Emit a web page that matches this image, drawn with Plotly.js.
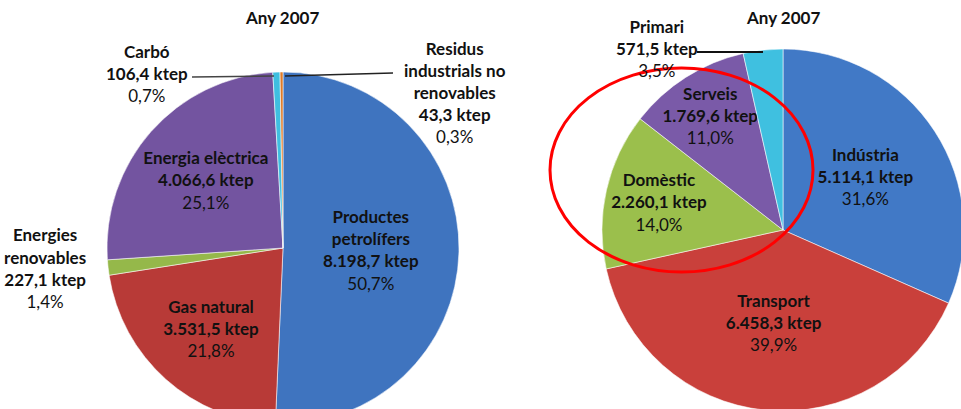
<!DOCTYPE html>
<html>
<head>
<meta charset="utf-8">
<script src="https://cdn.plot.ly/plotly-3.0.1.min.js"></script>
<style>
  html, body { margin: 0; padding: 0; background: #fff; overflow: hidden; }
  #chart { width: 1000px; height: 440px; }
</style>
</head>
<body>
<div id="chart"></div>
<script>
// ---- Data ----
const chartTitle = 'Any 2007';

const leftNames = ['Productes<br>petrolífers', 'Gas natural', 'Energies<br>renovables', 'Energia elèctrica', 'Carbó', 'Residus<br>industrials no<br>renovables'];
const leftValues = [8198.7, 3531.5, 227.1, 4066.6, 106.4, 43.3];
const leftPct = [50.7, 21.8, 1.4, 25.1, 0.7, 0.3];
const leftColors = ['#3f74bf', '#b83a37', '#95b84a', '#7354a0', '#3fbfe0', '#e07b28'];

const rightNames = ['Indústria', 'Transport', 'Domèstic', 'Serveis', 'Primari'];
const rightValues = [5114.1, 6458.3, 2260.1, 1769.6, 571.5];
const rightPct = [31.6, 39.9, 14.0, 11.0, 3.5];
const rightColors = ['#4179c6', '#c9403b', '#9bbf4c', '#7a5aa8', '#3fc0e0'];

// ---- Helpers ----
const fmtNum = (v) => {
  const parts = v.toFixed(1).split('.');
  const intPart = parts[0].replace(/\B(?=(\d{3})+(?!\d))/g, '.');
  return intPart + ',' + parts[1];
};
const fmtPct = (p) => p.toFixed(1).replace('.', ',') + '%';
const labelText = (name, v, p) => '<b>' + name + '</b><br><b>' + fmtNum(v) + ' ktep</b><br>' + fmtPct(p);

const FONT = 'Lato, "Open Sans", sans-serif';
const FS = 17;
const W = 1000, H = 440;
const px = (x) => x / W;
const py = (y) => (H - y) / H;

const sliceTemplate = '<b>%{label}</b><br><b>%{value:,.1f} ktep</b><br>%{customdata:.1f}%';
const txtFont = { family: FONT, size: FS, color: '#111' };

const leftTrace = {
  type: 'pie',
  labels: leftNames,
  values: leftValues,
  customdata: leftPct,
  sort: false,
  direction: 'clockwise',
  rotation: 0,
  marker: { colors: leftColors, line: { color: 'rgba(255,255,255,0.55)', width: 1 } },
  texttemplate: sliceTemplate,
  textposition: ['inside', 'inside', 'outside', 'inside', 'none', 'none'],
  insidetextorientation: 'horizontal',
  textfont: txtFont,
  insidetextfont: txtFont,
  outsidetextfont: txtFont,
  domain: { x: [px(107), px(459)], y: [py(424), py(72)] },
  hoverinfo: 'none',
  showlegend: false
};

const rightTrace = {
  type: 'pie',
  labels: rightNames,
  values: rightValues,
  customdata: rightPct,
  sort: false,
  direction: 'clockwise',
  rotation: 0,
  marker: { colors: rightColors, line: { color: 'rgba(255,255,255,0.55)', width: 1 } },
  texttemplate: sliceTemplate,
  textposition: ['inside', 'inside', 'inside', 'inside', 'none'],
  insidetextorientation: 'horizontal',
  textfont: txtFont,
  insidetextfont: txtFont,
  outsidetextfont: txtFont,
  domain: { x: [px(602), px(964)], y: [py(411), py(49)] },
  hoverinfo: 'none',
  showlegend: false
};

const annBase = { xref: 'paper', yref: 'paper', xanchor: 'center', yanchor: 'middle', showarrow: false, font: txtFont };

const layout = {
  width: W,
  height: H,
  margin: { l: 0, r: 0, t: 0, b: 0 },
  paper_bgcolor: '#fff',
  separators: ',.',
  uniformtext: { mode: 'show', minsize: FS },
  showlegend: false,
  annotations: [
    Object.assign({}, annBase, { text: '<b>' + chartTitle + '</b>', x: px(282), y: py(18) }),
    Object.assign({}, annBase, { text: '<b>' + chartTitle + '</b>', x: px(783), y: py(18) }),
    Object.assign({}, annBase, { text: labelText(leftNames[4], leftValues[4], leftPct[4]), x: px(147), y: py(73) }),
    Object.assign({}, annBase, { text: labelText(leftNames[5], leftValues[5], leftPct[5]), x: px(455), y: py(92) }),
    Object.assign({}, annBase, { text: labelText(rightNames[4], rightValues[4], rightPct[4]), x: px(657), y: py(49) })
  ],
  shapes: [
    { type: 'line', xref: 'paper', yref: 'paper', x0: px(192), y0: py(77), x1: px(274), y1: py(76), line: { color: '#444', width: 1.5 } },
    { type: 'line', xref: 'paper', yref: 'paper', x0: px(285), y0: py(76), x1: px(393), y1: py(73), line: { color: '#222', width: 1.5 } },
    { type: 'line', xref: 'paper', yref: 'paper', x0: px(697), y0: py(52), x1: px(763), y1: py(52), line: { color: '#111', width: 2 } },
    { type: 'circle', xref: 'paper', yref: 'paper', x0: px(550), y0: py(272), x1: px(813), y1: py(68), line: { color: '#ff0000', width: 3 }, layer: 'above' }
  ]
};

Plotly.newPlot('chart', [leftTrace, rightTrace], layout, { staticPlot: true, displayModeBar: false });
</script>
</body>
</html>
